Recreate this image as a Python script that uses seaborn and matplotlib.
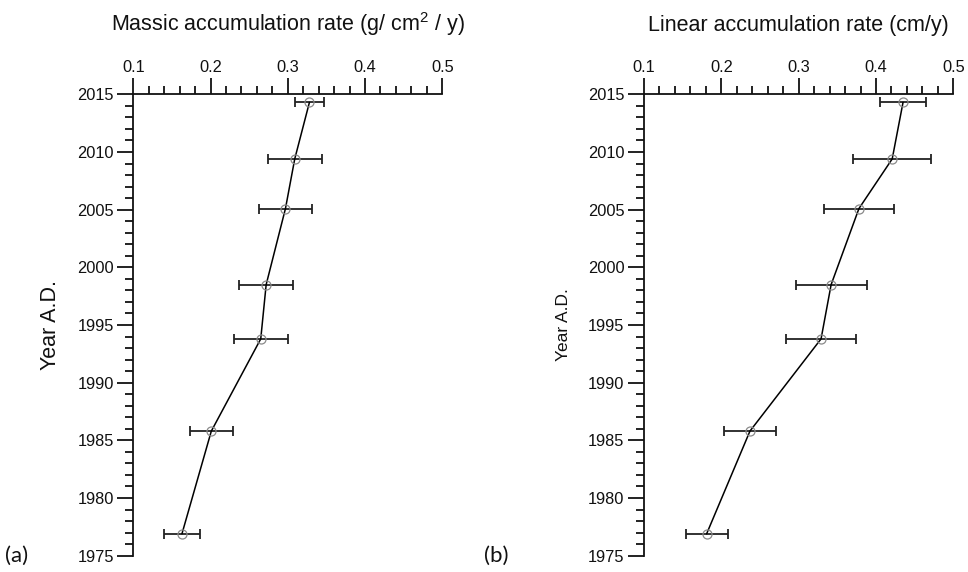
import matplotlib
matplotlib.use("Agg")
import matplotlib.pyplot as plt
from matplotlib.ticker import MultipleLocator
import pandas as pd
import seaborn as sns

# Sediment core dating: accumulation rates per dated horizon
years = [2014.3, 2009.4, 2005.1, 1998.5, 1993.8, 1985.8, 1976.9]
massic_rate = [0.328, 0.309, 0.297, 0.272, 0.265, 0.201, 0.163]
massic_err = [0.019, 0.035, 0.034, 0.035, 0.035, 0.0275, 0.0235]
linear_rate = [0.435, 0.421, 0.378, 0.342, 0.329, 0.237, 0.181]
linear_err = [0.0295, 0.0507, 0.0457, 0.046, 0.045, 0.034, 0.027]

x_ticks = [0.1, 0.2, 0.3, 0.4, 0.5]
y_ticks = [1975, 1980, 1985, 1990, 1995, 2000, 2005, 2010, 2015]

sns.set_style("ticks")
plt.rcParams["font.family"] = ["Liberation Sans", "DejaVu Sans"]
plt.rcParams["mathtext.fontset"] = "custom"
plt.rcParams["mathtext.rm"] = "Liberation Sans"
plt.rcParams["mathtext.it"] = "Liberation Sans:italic"

fig = plt.figure(figsize=(9.68, 5.72), dpi=100)
ax_a = fig.add_axes([0.1377, 0.0285, 0.3192, 0.8066])
ax_b = fig.add_axes([0.6653, 0.0285, 0.3195, 0.8066])

panels = [
    (ax_a, massic_rate, massic_err,
     r"Massic accumulation rate (g/ cm$^{2}$ / y)", 15.5, "(a)", 0.005),
    (ax_b, linear_rate, linear_err,
     "Linear accumulation rate (cm/y)", 12.5, "(b)", 0.500),
]

for ax, rate, err, title, ylab_size, tag, tag_x in panels:
    df = pd.DataFrame({"rate": rate, "year": years, "err": err})
    ax.errorbar(df["rate"], df["year"], xerr=df["err"], fmt="none",
                ecolor="#222222", elinewidth=1.3, capsize=3.5,
                capthick=1.3, zorder=2)
    sns.lineplot(data=df, x="rate", y="year", sort=False, estimator=None,
                 color="black", linewidth=1.1, marker="o", markersize=6.5,
                 markerfacecolor="none", markeredgecolor="#8a8a8a",
                 markeredgewidth=0.9, ax=ax, zorder=3)

    ax.set_xlim(x_ticks[0], x_ticks[-1])
    ax.set_ylim(y_ticks[0], y_ticks[-1])
    ax.set_xticks(x_ticks)
    ax.set_xticklabels([f"{t:.1f}" for t in x_ticks])
    ax.set_yticks(y_ticks)
    ax.xaxis.set_minor_locator(MultipleLocator(0.02))
    ax.yaxis.set_minor_locator(MultipleLocator(1))

    ax.xaxis.tick_top()
    ax.xaxis.set_label_position("top")
    for s in ("right", "bottom"):
        ax.spines[s].set_visible(False)
    for s in ("top", "left"):
        ax.spines[s].set_linewidth(1.3)
        ax.spines[s].set_color("#111111")

    ax.tick_params(which="major", length=11.5, width=1.3, color="#111111",
                   labelsize=11.8, pad=2.5, labelcolor="#111111")
    ax.tick_params(which="minor", length=5.8, width=1.3, color="#111111")

    ax.set_xlabel(title, fontsize=15.5, labelpad=21, color="#111111")
    ax.set_ylabel("Year A.D.", fontsize=ylab_size, labelpad=12,
                  color="#111111")
    fig.text(tag_x, 0.028, tag, fontsize=16, family=["Lato", "DejaVu Sans"],
             ha="left", va="center", color="#111111")

fig.savefig("out.png", dpi=100)
